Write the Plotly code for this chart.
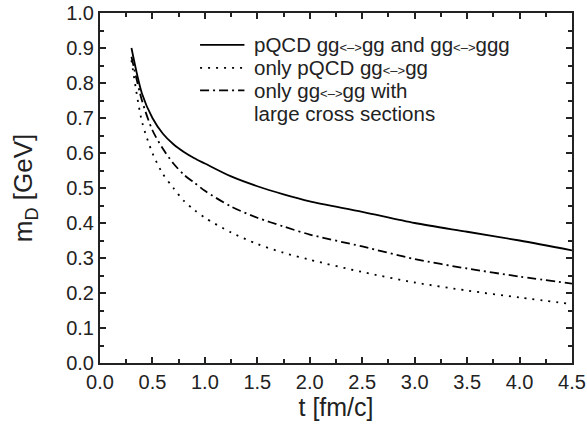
import plotly.graph_objects as go

t = [0.3, 0.4, 0.5, 0.6, 0.7, 0.8, 0.9, 1.0, 1.25, 1.5, 1.75, 2.0, 2.5, 3.0, 3.5, 4.0, 4.5]
md_full = [0.90, 0.77, 0.70, 0.655, 0.625, 0.603, 0.585, 0.57, 0.533, 0.505, 0.482, 0.462, 0.432, 0.40, 0.375, 0.35, 0.322]
md_pqcd22 = [0.865, 0.69, 0.60, 0.54, 0.50, 0.463, 0.437, 0.415, 0.373, 0.34, 0.315, 0.295, 0.26, 0.23, 0.207, 0.187, 0.168]
md_large = [0.875, 0.75, 0.665, 0.612, 0.57, 0.538, 0.515, 0.492, 0.447, 0.415, 0.39, 0.367, 0.333, 0.297, 0.27, 0.247, 0.227]

arrow = "<span style='font-size:13px'>&lt;–&gt;</span>"
legend_labels = [
    f"pQCD gg{arrow}gg and gg{arrow}ggg",
    f"only pQCD gg{arrow}gg",
    f"only gg{arrow}gg with",
    "large cross sections",
]

x_ticks = [0.0, 0.5, 1.0, 1.5, 2.0, 2.5, 3.0, 3.5, 4.0, 4.5]
y_ticks = [0.0, 0.1, 0.2, 0.3, 0.4, 0.5, 0.6, 0.7, 0.8, 0.9, 1.0]

fig = go.Figure()
dashes = ["solid", "2px,6px", "9px,4px,2px,4px"]
for ys, dash in zip([md_full, md_pqcd22, md_large], dashes):
    fig.add_trace(go.Scatter(x=t, y=ys, mode="lines",
                             line=dict(color="black", width=1.8, dash=dash, shape="spline", smoothing=0.8),
                             showlegend=False))

font = "Liberation Sans, Arial, sans-serif"
axis_common = dict(showline=True, linecolor="#222", linewidth=2, mirror="ticks", ticks="inside",
                   ticklen=6, tickwidth=1.5, tickcolor="#222", showgrid=False, zeroline=False,
                   tickfont=dict(family=font, size=20, color="#222"))

fig.update_xaxes(range=[0, 4.5], tickvals=x_ticks, ticktext=[f"{v:.1f}" for v in x_ticks],
                 minor=dict(ticks="inside", ticklen=4, tickwidth=1.5, tickcolor="#222", dtick=0.25, tick0=0),
                 title=dict(text="t [fm/c]", font=dict(family=font, size=25, color="#222"), standoff=6),
                 **axis_common)
fig.update_yaxes(range=[0, 1.0], tickvals=y_ticks, ticktext=[f"{v:.1f}" for v in y_ticks],
                 minor=dict(ticks="inside", ticklen=4, tickwidth=1.5, tickcolor="#222", dtick=0.05, tick0=0),
                 title=dict(text="m<sub>D</sub> [GeV]", font=dict(family=font, size=26, color="#222"), standoff=26),
                 **axis_common)

# legend samples and text
rows_y = [0.909, 0.843, 0.779, 0.714]
for i, lab in enumerate(legend_labels):
    fig.add_annotation(x=0.322, y=rows_y[i], xref="paper", yref="paper", text=lab, showarrow=False,
                       xanchor="left", yanchor="middle", font=dict(family=font, size=20.5, color="#222"))
for i, d in enumerate(dashes):
    fig.add_shape(type="line", xref="paper", yref="paper", x0=0.212, x1=0.306, y0=rows_y[i], y1=rows_y[i],
                  line=dict(color="black", width=1.8, dash=d))

fig.update_layout(width=587, height=432, margin=dict(l=100, r=15, t=13, b=69, autoexpand=False),
                  paper_bgcolor="white", plot_bgcolor="white", font=dict(family=font, color="#222"))

fig.write_html("out.html", config={"displayModeBar": False},
               post_script="document.body.style.margin='0';document.body.style.overflow='hidden';")
